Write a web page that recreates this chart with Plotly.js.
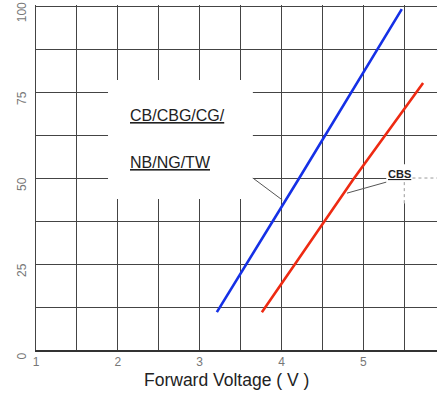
<!DOCTYPE html>
<html>
<head>
<meta charset="utf-8">
<script src="https://cdn.plot.ly/plotly-3.0.1.min.js"></script>
<style>html,body{margin:0;padding:0;background:#fff;}#chart{width:438px;height:393px;}</style>
</head>
<body>
<div id="chart"></div>
<script>
// Forward voltage (V) vs forward current (relative)
const blueVoltage = [3.21, 4.21, 5.47];
const blueCurrent = [11, 49.7, 99.1];
const redVoltage = [3.76, 4.88, 5.73];
const redCurrent = [11, 49.7, 77.6];
const xTickVals = [1, 2, 3, 4, 5];
const xTickText = ['1', '2', '3', '4', '5'];
const yTickVals = [0, 25, 50, 75, 100];
const yTickText = ['0', '25', '50', '75', '100'];
const labelBlue = 'CB/CBG/CG/';
const labelBlue2 = 'NB/NG/TW';
const labelRed = 'CBS';
const xTitle = 'Forward Voltage ( V )';

const FONT = 'Liberation Sans, Arial, sans-serif';
const GRID = '#444';

const traces = [
  {x: blueVoltage, y: blueCurrent, mode: 'lines', line: {color: '#1530e6', width: 2.6}, hoverinfo: 'skip', showlegend: false},
  {x: redVoltage, y: redCurrent, mode: 'lines', line: {color: '#ee2a12', width: 2.6}, hoverinfo: 'skip', showlegend: false}
];

const layout = {
  width: 438, height: 393,
  margin: {l: 36, r: 1, t: 5, b: 43},
  paper_bgcolor: '#fff', plot_bgcolor: '#fff',
  font: {family: FONT, color: '#222'},
  showlegend: false,
  xaxis: {
    range: [1, 5.9], tickvals: xTickVals, ticktext: xTickText,
    showgrid: true, gridcolor: GRID, gridwidth: 1,
    minor: {dtick: 0.5, tick0: 1, showgrid: true, gridcolor: GRID, gridwidth: 1, ticks: ''},
    showline: true, linecolor: '#333', linewidth: 1.5,
    zeroline: false, ticks: '',
    tickfont: {family: FONT, size: 12, color: '#777'}
  },
  yaxis: {
    range: [0, 100.3], tickvals: yTickVals, ticktext: yTickText,
    showgrid: true, gridcolor: GRID, gridwidth: 1,
    minor: {dtick: 12.5, tick0: 0, showgrid: true, gridcolor: GRID, gridwidth: 1, ticks: ''},
    showline: true, linecolor: '#444', linewidth: 1,
    zeroline: false, ticks: '', tickangle: -90,
    ticklabelshift: 8, ticklabelstandoff: 4, ticklabeloverflow: 'allow',
    tickfont: {family: FONT, size: 12, color: '#777'}
  },
  shapes: [
    {type: 'rect', xref: 'x', yref: 'y', x0: 1.88, x1: 3.65, y0: 43.9, y1: 78.5, fillcolor: '#fff', line: {width: 0}, layer: 'above'},
    {type: 'rect', xref: 'x', yref: 'y', x0: 5.28, x1: 5.9, y0: 42.7, y1: 54, fillcolor: '#fff', line: {width: 0}, layer: 'above'},
    {type: 'line', xref: 'x', yref: 'y', x0: 5.6, x1: 5.9, y0: 50, y1: 50, line: {color: '#999', width: 1, dash: 'dot'}, layer: 'above'},
    {type: 'line', xref: 'x', yref: 'y', x0: 5.5, x1: 5.5, y0: 42.7, y1: 49, line: {color: '#999', width: 1, dash: 'dot'}, layer: 'above'},
    {type: 'line', xref: 'x', yref: 'y', x0: 3.65, x1: 4.01, y0: 50, y1: 43.6, line: {color: '#555', width: 1}, layer: 'above'},
    {type: 'line', xref: 'x', yref: 'y', x0: 5.28, x1: 4.80, y0: 48.8, y1: 45.6, line: {color: '#555', width: 1}, layer: 'above'}
  ],
  annotations: [
    {xref: 'x', yref: 'y', x: 2.12, y: 68.3, xanchor: 'left', yanchor: 'middle', text: '<u>' + labelBlue + '</u>', showarrow: false, font: {family: FONT, size: 16, color: '#222'}},
    {xref: 'x', yref: 'y', x: 2.12, y: 54.4, xanchor: 'left', yanchor: 'middle', text: '<u>' + labelBlue2 + '</u>', showarrow: false, font: {family: FONT, size: 16, color: '#222'}},
    {xref: 'x', yref: 'y', x: 5.28, y: 51.3, xanchor: 'left', yanchor: 'middle', text: '<b><u>' + labelRed + '</u></b>', showarrow: false, font: {family: FONT, size: 11, color: '#222'}},
    {xref: 'paper', yref: 'paper', x: 0.474, y: -0.088, xanchor: 'center', yanchor: 'middle', text: xTitle, showarrow: false, font: {family: FONT, size: 17.5, color: '#222'}}
  ]
};

Plotly.newPlot('chart', traces, layout, {staticPlot: true, displayModeBar: false});
</script>
</body>
</html>
